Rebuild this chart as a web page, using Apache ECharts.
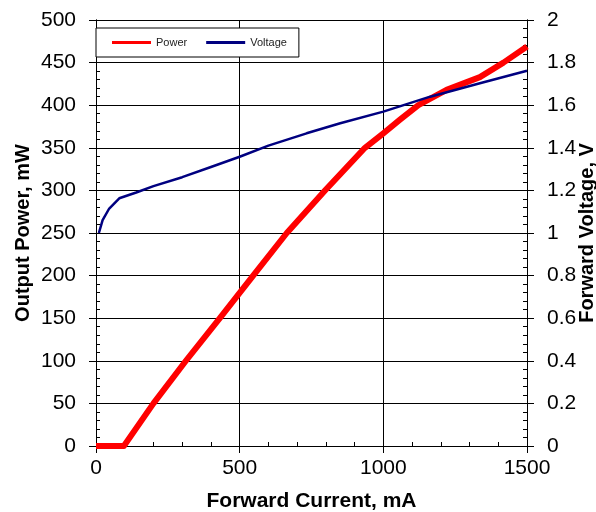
<!DOCTYPE html>
<html>
<head>
<meta charset="utf-8">
<script src="https://cdn.jsdelivr.net/npm/echarts@6/dist/echarts.min.js"></script>
<style>
html,body{margin:0;padding:0;background:#fff;}
#chart{width:596px;height:512px;}
</style>
</head>
<body>
<div id="chart"></div>
<script>
// Forward current (mA) / output power (mW)
const powerCurrent = [0, 90, 97, 200, 313, 431, 547, 664, 797, 936, 1000, 1058, 1122, 1220, 1336, 1394, 1418, 1500];
const powerValues  = [0, 0, 0, 50, 100, 150, 200, 250, 300, 350, 367, 383, 400, 418, 433, 445, 450, 469];
// Forward current (mA) / forward voltage (V)
const voltageCurrent = [10, 23, 46, 81, 140, 200, 300, 400, 500, 600, 733, 850, 1000, 1163, 1336, 1500];
const voltageValues  = [1.0, 1.06, 1.115, 1.163, 1.19, 1.22, 1.262, 1.31, 1.358, 1.41, 1.468, 1.515, 1.57, 1.64, 1.703, 1.762];
const seriesNames = ['Power', 'Voltage'];
const xTitle = 'Forward Current, mA';
const yLeftTitle = 'Output Power, mW';
const yRightTitle = 'Forward Voltage, V';

const font = 'Liberation Sans, Arial, sans-serif';
const black = '#000';

const chart = echarts.init(document.getElementById('chart'), null, {renderer: 'canvas'});
const zipPairs = (xs, ys) => xs.map((x, i) => [x, ys[i]]);

const minorAxis = (pos, max, interval) => ({
  type: 'value', min: 0, max: max, interval: interval, position: pos,
  axisLine: {show: true, onZero: false, lineStyle: {color: black, width: 1}},
  axisTick: {show: true, inside: true, length: 4, lineStyle: {color: black}},
  axisLabel: {show: false},
  splitLine: {show: false}
});

chart.setOption({
  animation: false,
  backgroundColor: '#fff',
  grid: {left: 96, right: 69, top: 20, bottom: 66, outerBoundsMode: 'none', containLabel: false},
  legend: {
    left: 96, top: 28,
    data: seriesNames,
    icon: 'rect',
    itemWidth: 39, itemHeight: 3, itemGap: 19,
    padding: [9, 12, 9, 16],
    borderColor: black, borderWidth: 1,
    backgroundColor: '#fff',
    textStyle: {fontSize: 11, color: '#222', fontFamily: font}
  },
  xAxis: [
    {
      type: 'value', min: 0, max: 1500, interval: 500, position: 'bottom',
      name: xTitle, nameLocation: 'middle', nameGap: 45, nameMoveOverlap: false,
      nameTextStyle: {fontSize: 21, fontWeight: 'bold', color: black, fontFamily: font},
      axisLine: {show: true, onZero: false, lineStyle: {color: black, width: 1}},
      axisTick: {show: true, inside: false, length: 7, lineStyle: {color: black}},
      axisLabel: {fontSize: 21, color: black, margin: 12, fontFamily: font,
        formatter: v => String(v)},
      splitLine: {show: true, lineStyle: {color: black, width: 1}}
    },
    minorAxis('bottom', 1500, 100)
  ],
  yAxis: [
    {
      type: 'value', min: 0, max: 500, interval: 50, position: 'left',
      name: yLeftTitle, nameLocation: 'middle', nameGap: 63, nameRotate: 90, nameMoveOverlap: false,
      nameTextStyle: {fontSize: 20, fontWeight: 'bold', color: black, fontFamily: font},
      axisLine: {show: true, onZero: false, lineStyle: {color: black, width: 1}},
      axisTick: {show: true, inside: false, length: 7, lineStyle: {color: black}},
      axisLabel: {fontSize: 21, color: black, margin: 20, fontFamily: font,
        formatter: v => String(v)},
      splitLine: {show: true, lineStyle: {color: black, width: 1}}
    },
    {
      type: 'value', min: 0, max: 2, interval: 0.2, position: 'right',
      name: yRightTitle, nameLocation: 'middle', nameGap: 50, nameRotate: 90, nameMoveOverlap: false,
      nameTextStyle: {fontSize: 20, fontWeight: 'bold', color: black, fontFamily: font},
      axisLine: {show: true, onZero: false, lineStyle: {color: black, width: 1}},
      axisTick: {show: true, inside: false, length: 7, lineStyle: {color: black}},
      axisLabel: {fontSize: 21, color: black, margin: 20, fontFamily: font,
        formatter: v => String(Math.round(v * 10) / 10)},
      splitLine: {show: false}
    },
    minorAxis('left', 500, 10),
    minorAxis('right', 500, 10)
  ],
  series: [
    {
      name: seriesNames[0], type: 'line', xAxisIndex: 0, yAxisIndex: 0,
      data: zipPairs(powerCurrent, powerValues),
      symbol: 'none', showSymbol: false,
      lineStyle: {color: '#ff0000', width: 6, join: 'round'},
      itemStyle: {color: '#ff0000'},
      z: 3
    },
    {
      name: seriesNames[1], type: 'line', xAxisIndex: 0, yAxisIndex: 1,
      data: zipPairs(voltageCurrent, voltageValues),
      symbol: 'none', showSymbol: false,
      lineStyle: {color: '#000080', width: 2.5, join: 'round'},
      itemStyle: {color: '#000080'},
      z: 4
    }
  ]
});
</script>
</body>
</html>
